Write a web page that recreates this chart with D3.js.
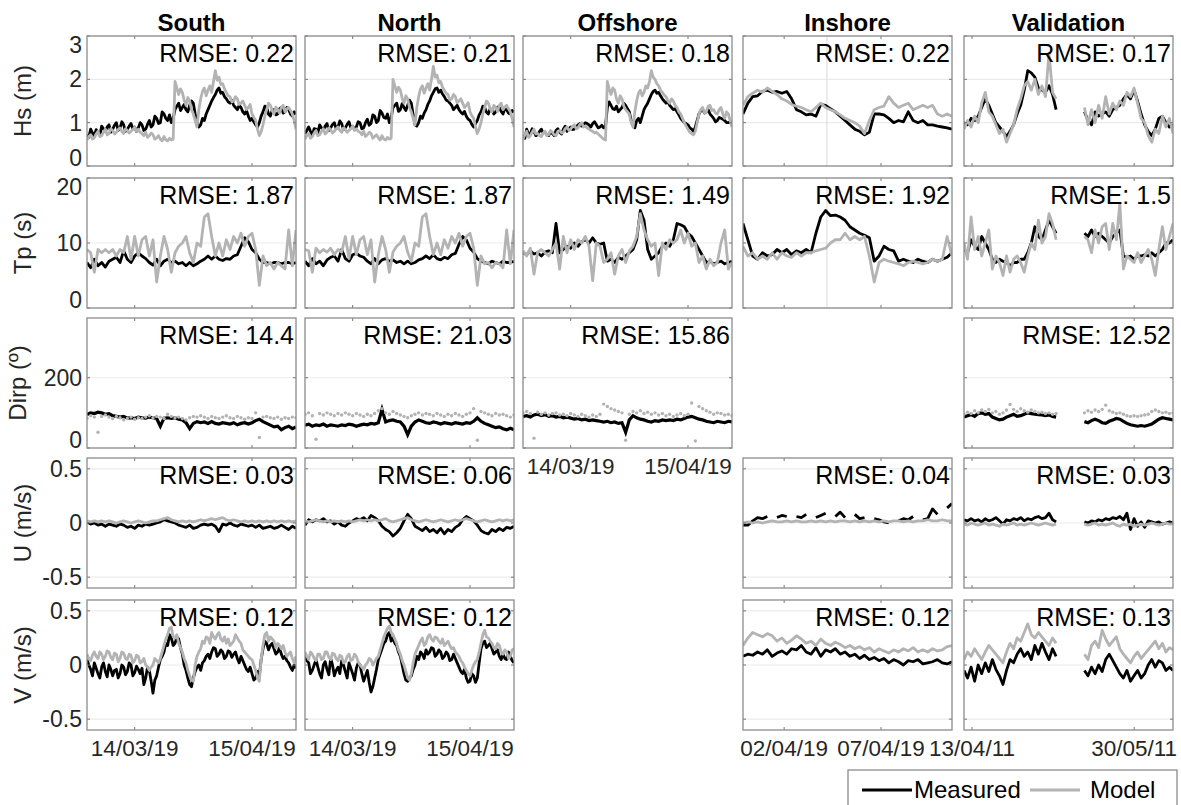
<!DOCTYPE html>
<html>
<head>
<meta charset="utf-8">
<script src="https://cdn.jsdelivr.net/npm/d3@7"></script>
<style>
  body { margin: 0; background: #fff; }
  svg { display: block; font-family: Arial, "Liberation Sans", Helvetica, sans-serif; }
</style>
</head>
<body>
<div id="chart"></div>
<script>
// stations (columns)
const stations = ["South", "North", "Offshore", "Inshore", "Validation"];
const stationStart = ["2019-03-01T00:00", "2019-03-01T00:00", "2019-03-01T00:00", "2019-03-30T21:00", "2011-04-10T16:00"];
const stationEnd = ["2019-04-27T00:00", "2019-04-27T00:00", "2019-04-27T00:00", "2019-04-10T16:00", "2011-06-10T06:00"];
const stationTicks = [
    ["2019-03-14", "2019-04-15"],
    ["2019-03-14", "2019-04-15"],
    ["2019-03-14", "2019-04-15"],
    ["2019-04-02", "2019-04-07"],
    ["2011-04-13", "2011-05-30"]
];
const inshoreMarker = "2019-04-04T05:00";

// variables (rows)
const variables = ["Hs", "Tp", "Dirp", "U", "V"];
const varLabels = ["Hs (m)", "Tp (s)", "Dirp (º)", "U (m/s)", "V (m/s)"];
const varDomains = [[0, 3], [0, 20], [0, 370], [-0.6, 0.6], [-0.6, 0.6]];
const varTicks = [[0, 1, 2, 3], [0, 10, 20], [0, 200], [-0.5, 0, 0.5], [-0.5, 0, 0.5]];

const rmseHs = [0.22, 0.21, 0.18, 0.22, 0.17];
const rmseTp = [1.87, 1.87, 1.49, 1.92, 1.5];
const rmseDirp = [14.4, 21.03, 15.86, null, 12.52];
const rmseU = [0.03, 0.06, null, 0.04, 0.03];
const rmseV = [0.12, 0.12, null, 0.12, 0.13];

// ---- Hs ----
const southHsMeas = [0.72,0.66,0.85,0.76,0.70,0.84,0.78,0.70,0.92,0.86,0.80,0.90,0.95,0.78,0.85,0.94,1.00,0.82,0.88,1.02,0.95,0.80,0.85,0.92,0.98,0.86,0.90,0.80,0.88,1.00,0.95,0.82,0.85,0.96,1.05,0.90,0.95,1.15,1.10,0.98,1.00,1.25,1.20,1.10,1.05,1.18,1.00,1.10,1.30,1.38,1.45,1.28,1.35,1.42,1.30,1.25,1.40,1.50,1.45,1.20,1.00,0.90,0.95,1.10,1.05,1.20,1.30,1.40,1.50,1.58,1.65,1.75,1.80,1.68,1.70,1.60,1.55,1.48,1.45,1.52,1.40,1.35,1.30,1.40,1.35,1.25,1.20,1.28,1.15,1.05,1.10,1.02,0.95,0.90,1.00,1.15,1.25,1.38,1.35,1.20,1.15,1.28,1.30,1.18,1.20,1.32,1.35,1.22,1.25,1.35,1.30,1.20,1.15,1.25,1.20];
const southHsModel = [0.60,0.68,0.72,0.62,0.65,0.74,0.80,0.68,0.70,0.78,0.85,0.72,0.75,0.86,0.82,0.74,0.78,0.84,0.88,0.80,0.75,0.86,0.82,0.76,0.80,0.84,0.90,0.80,0.85,0.78,0.75,0.70,0.78,0.66,0.70,0.76,0.72,0.62,0.65,0.70,0.62,0.58,0.68,0.60,0.58,0.64,0.60,0.62,1.95,1.80,1.65,1.78,1.70,1.52,1.40,1.58,1.50,1.30,1.20,1.05,0.90,1.30,1.55,1.72,1.80,1.62,1.75,1.85,1.70,1.95,2.20,1.98,2.05,1.88,1.90,1.78,1.70,1.62,1.60,1.48,1.50,1.60,1.55,1.42,1.45,1.50,1.40,1.30,1.35,1.42,1.20,1.12,1.05,0.85,0.70,0.80,0.95,1.15,1.30,1.45,1.40,1.28,1.20,1.36,1.30,1.22,1.35,1.40,1.25,1.32,1.35,1.28,1.20,1.05,0.85];
const northHsMeas = [0.75,0.82,0.90,0.80,0.72,0.86,0.85,0.76,0.95,0.88,0.82,0.92,0.98,0.82,0.88,0.96,1.00,0.86,0.90,1.04,0.98,0.84,0.88,0.96,1.02,0.88,0.92,0.84,0.90,1.02,1.00,0.86,0.88,1.00,1.08,0.94,0.98,1.18,1.15,1.00,1.05,1.28,1.22,1.12,1.10,1.20,1.00,1.12,1.35,1.40,1.45,1.26,1.30,1.44,1.35,1.28,1.40,1.52,1.45,1.18,0.95,0.92,1.00,1.15,1.10,1.22,1.30,1.42,1.50,1.62,1.70,1.78,1.80,1.70,1.75,1.66,1.60,1.52,1.50,1.45,1.40,1.30,1.35,1.40,1.30,1.24,1.20,1.26,1.15,1.08,1.05,0.96,0.90,0.98,1.05,1.18,1.25,1.38,1.35,1.24,1.20,1.32,1.30,1.20,1.25,1.36,1.35,1.26,1.20,1.32,1.30,1.22,1.20,1.28,1.25];
const northHsModel = [0.62,0.70,0.75,0.64,0.68,0.76,0.82,0.70,0.72,0.80,0.86,0.74,0.78,0.88,0.84,0.76,0.80,0.86,0.90,0.82,0.78,0.88,0.85,0.78,0.82,0.86,0.92,0.82,0.86,0.80,0.78,0.72,0.80,0.68,0.72,0.78,0.75,0.64,0.68,0.72,0.65,0.60,0.70,0.62,0.60,0.66,0.62,0.64,2.00,1.85,1.70,1.82,1.75,1.56,1.45,1.62,1.55,1.35,1.25,1.10,0.95,1.35,1.60,1.78,1.85,1.68,1.80,1.90,1.75,2.00,2.30,2.05,2.10,1.92,1.95,1.82,1.75,1.68,1.65,1.52,1.55,1.65,1.60,1.46,1.50,1.55,1.45,1.35,1.40,1.46,1.25,1.16,1.10,0.90,0.75,0.86,1.00,1.20,1.35,1.50,1.45,1.32,1.25,1.40,1.35,1.26,1.40,1.45,1.30,1.36,1.40,1.32,1.25,1.10,0.90];
const offshoreHsMeas = [0.70,0.64,0.85,0.74,0.75,0.86,0.80,0.70,0.72,0.80,0.85,0.76,0.78,0.72,0.70,0.80,0.75,0.70,0.82,0.86,0.78,0.74,0.85,0.92,0.80,0.86,0.90,0.84,0.85,0.90,0.95,0.98,0.92,0.96,1.00,0.98,0.95,0.90,0.98,1.02,0.95,0.88,0.90,0.94,0.88,0.92,1.35,1.48,1.40,1.32,1.30,1.38,1.25,1.30,1.35,1.45,1.40,1.32,1.25,1.05,0.95,0.88,1.05,1.10,1.00,1.15,1.30,1.38,1.45,1.55,1.65,1.72,1.75,1.68,1.70,1.62,1.55,1.50,1.45,1.48,1.40,1.35,1.30,1.32,1.25,1.18,1.10,1.05,1.00,0.98,0.95,0.88,0.85,0.80,0.90,1.05,1.20,1.28,1.30,1.22,1.25,1.30,1.20,1.15,1.10,1.02,1.05,1.12,1.10,1.08,1.05,1.00,1.00,1.02,0.95];
const offshoreHsModel = [0.62,0.72,0.80,0.66,0.70,0.78,0.85,0.74,0.75,0.70,0.68,0.76,0.80,0.70,0.72,0.82,0.78,0.72,0.70,0.80,0.82,0.76,0.78,0.86,0.90,0.82,0.85,0.92,0.95,0.86,0.88,0.96,1.00,0.90,0.92,0.88,0.85,0.82,0.80,0.76,0.78,0.74,0.70,0.66,0.62,0.60,1.95,1.78,1.65,1.80,1.75,1.55,1.45,1.62,1.55,1.38,1.30,1.25,1.20,1.00,0.90,1.25,1.50,1.68,1.75,1.62,1.70,1.85,1.80,1.95,2.20,2.05,2.00,1.90,1.85,1.75,1.70,1.64,1.60,1.50,1.45,1.55,1.50,1.40,1.35,1.25,1.20,1.10,1.00,0.92,0.85,0.78,0.75,0.72,0.80,1.00,1.20,1.30,1.35,1.22,1.25,1.38,1.40,1.28,1.30,1.22,1.20,1.30,1.35,1.20,1.10,1.25,1.20,1.05,0.90];
const inshoreHsMeas = [1.20,1.45,1.60,1.62,1.72,1.75,1.70,1.72,1.68,1.72,1.55,1.30,1.25,1.18,1.20,1.15,1.42,1.40,1.32,1.25,1.15,1.05,0.95,0.85,0.80,0.72,0.78,1.20,1.20,1.18,1.10,1.00,1.05,1.02,1.25,1.05,1.00,1.05,0.95,0.95,0.92,0.90,0.88,0.85];
const inshoreHsModel = [1.40,1.60,1.68,1.75,1.70,1.80,1.72,1.65,1.55,1.50,1.42,1.38,1.35,1.30,1.25,1.35,1.45,1.35,1.30,1.25,1.18,1.10,1.05,1.00,0.92,0.75,1.05,1.30,1.35,1.38,1.60,1.45,1.35,1.40,1.45,1.30,1.35,1.40,1.35,1.40,1.20,1.15,1.20,1.15];
const validationHsMeas = [1.00,0.95,1.10,1.05,1.15,1.35,1.55,1.40,1.20,1.00,0.90,0.80,0.68,0.80,0.95,1.20,1.40,1.75,2.20,2.15,2.05,1.80,1.75,1.70,1.85,1.65,1.30,null,null,null,null,null,null,null,1.25,1.05,0.95,1.25,1.15,1.20,1.25,1.15,1.30,1.35,1.40,1.55,1.65,1.55,1.75,1.50,1.20,0.95,0.80,0.70,0.85,1.10,1.15,1.00,0.90,0.95];
const validationHsModel = [0.85,1.05,0.90,1.15,1.00,1.45,1.70,1.25,1.15,0.95,0.75,0.85,0.55,0.75,0.95,1.30,1.55,1.85,1.95,1.75,2.00,1.65,1.85,1.60,2.60,1.70,1.55,null,null,null,null,null,null,null,1.35,0.95,1.30,1.00,1.40,1.10,1.60,1.20,1.45,1.30,1.50,1.40,1.70,1.60,1.80,1.45,1.10,1.00,0.70,0.55,0.85,0.75,1.15,0.90,1.10,0.75];

// ---- Tp ----
const southTpMeas = [7.0,6.2,7.5,6.5,7.0,6.3,7.2,7.5,7.8,7.0,8.8,7.5,7.0,8.0,8.5,8.0,7.6,7.0,6.6,7.5,6.5,7.2,7.5,7.0,7.2,6.8,7.0,6.5,7.0,6.5,6.8,7.2,7.5,8.0,7.5,8.0,7.5,7.3,7.6,7.5,8.0,8.2,9.5,10.8,10.2,9.0,8.5,7.5,7.0,7.0,6.8,7.0,7.0,6.8,7.0,7.0,6.8,7.0];
const southTpModel = [9.0,8.5,5.5,9.0,8.5,9.0,8.5,9.0,8.0,9.0,8.5,11.0,7.5,11.0,8.0,10.5,11.0,8.0,10.5,4.0,8.0,11.0,9.0,5.5,8.5,9.5,10.0,11.0,8.5,7.0,10.0,9.5,14.0,14.5,11.0,8.0,10.0,8.0,10.5,9.0,11.0,10.0,11.5,9.5,11.0,11.5,9.0,3.5,8.0,6.5,7.0,6.0,7.0,6.5,6.0,12.0,6.5,12.0];
const northTpMeas = [7.2,6.5,7.6,6.8,7.2,6.5,7.4,7.8,8.0,7.2,9.0,7.6,7.2,8.2,8.4,8.0,7.8,7.2,6.8,7.6,6.8,7.4,7.6,7.2,7.4,7.0,7.2,6.8,7.2,6.8,7.0,7.4,7.6,8.0,7.6,8.2,7.6,7.4,7.8,7.6,8.2,8.4,9.8,11.0,10.5,9.2,8.6,7.6,7.2,7.0,6.8,7.2,7.0,6.8,7.2,7.0,7.0,7.2];
const northTpModel = [9.0,8.8,5.5,9.2,8.5,9.0,8.6,9.2,8.2,9.0,8.6,11.0,7.6,11.0,8.2,10.5,11.0,8.2,10.5,4.0,8.2,11.0,9.0,5.5,8.6,9.5,10.0,11.0,8.6,7.2,10.0,9.5,14.0,14.5,11.0,8.2,10.0,8.2,10.5,9.2,11.0,10.0,11.5,9.5,11.0,11.5,9.2,3.5,8.0,6.8,7.0,6.2,7.0,6.8,6.2,12.0,6.8,12.0];
const offshoreTpMeas = [8.5,8.2,8.8,8.3,8.5,8.0,8.6,8.8,8.5,13.0,8.5,9.0,9.5,9.2,10.0,9.5,10.2,10.5,10.0,10.8,10.0,9.8,10.0,7.2,7.5,7.0,7.8,7.5,8.0,8.5,9.0,10.5,15.0,13.5,9.0,7.5,8.0,8.5,9.5,10.0,9.5,10.5,13.0,12.8,12.5,11.5,11.0,10.0,9.0,8.0,7.0,7.2,6.8,7.0,7.2,6.8,7.0,7.2];
const offshoreTpModel = [8.8,8.0,9.2,5.2,8.6,9.0,8.5,8.0,9.0,10.0,6.0,11.0,8.5,10.5,9.0,10.5,10.0,11.0,9.5,4.2,10.0,9.5,7.0,7.5,8.5,5.2,8.0,9.0,7.0,8.8,9.5,11.0,14.5,12.0,10.5,9.5,10.0,5.0,10.0,9.0,10.5,10.0,10.5,12.0,10.0,11.5,9.5,10.0,7.0,8.0,6.0,7.5,6.5,7.0,10.0,12.0,6.0,7.0];
const inshoreTpMeas = [13.0,10.5,8.0,7.5,8.5,8.0,8.2,9.0,8.5,9.0,8.2,8.8,8.5,9.0,8.5,11.5,14.0,15.0,14.2,14.3,14.0,13.5,12.5,12.0,11.5,11.2,10.8,7.2,8.0,9.5,9.0,8.8,7.2,7.5,7.2,7.0,7.5,7.2,7.0,7.5,7.2,7.5,7.8,8.5];
const inshoreTpModel = [9.5,8.0,8.5,7.5,8.0,7.5,8.5,7.5,8.5,8.0,7.8,8.5,8.0,8.5,8.5,8.8,9.0,9.2,10.0,10.5,10.5,11.5,10.5,11.0,10.5,11.0,8.0,4.0,7.0,7.5,7.2,7.0,6.8,6.5,7.0,7.2,7.0,6.8,7.0,7.5,7.2,7.5,11.0,8.0];
const validationTpMeas = [9.0,8.5,10.5,9.5,9.0,11.0,10.0,9.0,7.5,7.0,7.5,7.2,7.0,6.5,7.0,7.0,7.5,7.5,8.5,10.0,12.5,11.0,10.5,12.0,13.5,12.5,11.5,null,null,null,null,null,null,null,11.5,11.0,12.0,11.0,11.5,11.0,10.5,10.0,11.0,11.5,12.0,8.0,7.8,8.0,7.5,8.0,8.0,8.2,8.0,8.5,8.0,8.5,9.0,10.0,10.0,10.5];
const validationTpModel = [10.0,7.5,14.0,9.0,11.0,8.0,10.0,12.0,6.0,8.0,7.0,5.0,8.0,5.5,7.5,8.0,7.0,5.5,8.0,10.0,9.0,13.5,10.0,11.0,14.5,13.0,10.5,null,null,null,null,null,null,null,11.0,10.5,8.5,12.0,10.0,12.5,13.0,9.0,13.0,10.5,16.0,6.0,8.0,7.5,7.0,8.5,7.0,8.0,9.0,7.5,5.0,9.0,12.5,9.0,11.0,13.0];

// ---- Dirp ----
const southDirpMeas = [95,100,98,102,100,96,98,92,90,88,90,85,86,84,88,86,85,88,86,84,62,85,86,84,86,82,80,72,55,70,75,72,74,70,75,70,68,72,70,68,72,66,70,72,68,72,78,82,75,70,65,60,62,52,58,62,55,60];
const southDirpModel = [85,92,88,45,90,94,88,84,90,86,80,84,88,82,86,84,88,92,86,90,88,84,96,90,86,88,84,80,86,90,88,92,88,84,90,86,84,88,92,86,84,90,86,82,86,84,100,30,88,90,86,84,88,82,86,84,88,86];
const northDirpMeas = [65,68,62,66,64,68,62,66,64,62,66,64,68,66,62,65,68,66,70,68,72,110,74,78,80,76,74,62,38,62,74,80,76,72,70,74,72,68,72,70,68,72,70,68,72,70,76,86,76,70,66,62,58,60,55,52,56,52];
const northDirpModel = [96,100,92,25,98,94,100,96,92,98,94,100,96,92,98,94,90,96,92,98,106,112,100,96,104,98,94,90,86,92,96,100,94,98,96,92,98,94,90,96,92,98,94,90,96,100,112,22,104,100,96,92,98,94,96,92,88,94];
const offshoreDirpMeas = [90,92,88,94,96,92,95,90,92,88,90,86,88,85,82,84,80,82,78,80,78,76,74,76,72,74,70,72,45,80,92,86,82,80,76,74,78,76,80,78,80,78,82,80,84,88,90,86,82,80,76,74,72,76,74,72,76,74];
const offshoreDirpModel = [100,104,98,28,102,96,100,94,98,100,94,96,92,98,94,90,96,92,88,94,90,96,125,118,112,108,104,100,22,96,104,100,106,98,102,96,100,94,98,92,96,90,94,98,92,96,128,20,118,112,106,102,96,100,98,94,96,92];
const validationDirpMeas = [88,92,95,90,98,100,96,98,88,84,80,82,88,92,96,90,92,96,100,98,96,95,94,92,94,90,88,null,null,null,null,null,null,null,75,72,78,82,78,72,70,76,80,84,82,76,70,66,64,62,64,62,65,68,75,82,86,84,82,80];
const validationDirpModel = [96,102,98,106,100,108,104,110,100,104,96,100,108,124,110,104,112,106,102,108,104,100,102,98,100,96,98,null,null,null,null,null,null,null,100,106,102,108,104,110,122,106,102,98,100,96,92,90,92,90,92,94,96,104,108,104,100,102,98,100];

// ---- U ----
const southUMeas = [0.01,-0.01,0.00,-0.02,-0.01,-0.03,-0.01,-0.02,-0.03,-0.01,-0.02,-0.04,-0.03,-0.05,-0.02,-0.03,-0.01,-0.02,-0.01,0.00,0.01,0.03,0.02,0.01,0.00,-0.02,-0.03,-0.04,-0.02,-0.05,-0.04,-0.02,-0.01,-0.02,-0.01,-0.03,-0.08,-0.01,-0.02,0.00,-0.02,-0.03,-0.01,-0.02,-0.03,-0.02,-0.04,-0.02,-0.05,-0.04,-0.03,-0.05,-0.04,-0.02,-0.04,-0.06,-0.03,-0.05];
const southUModel = [0.02,0.01,0.02,0.01,0.02,0.01,0.02,0.01,0.00,0.01,0.02,0.01,0.00,0.01,0.02,0.01,0.00,0.01,0.02,0.02,0.03,0.04,0.05,0.03,0.02,0.01,0.02,0.01,0.02,0.01,0.02,0.03,0.02,0.03,0.04,0.03,0.04,0.05,0.03,0.02,0.03,0.02,0.01,0.02,0.01,0.02,0.01,0.02,0.01,0.02,0.01,0.02,0.01,0.02,0.01,0.02,0.01,0.02];
const northUMeas = [-0.02,0.03,0.01,0.03,0.02,0.04,0.01,0.02,-0.01,0.01,-0.02,-0.03,0.00,0.02,0.04,0.03,0.05,0.02,0.07,0.05,0.02,-0.03,-0.06,-0.08,-0.12,-0.09,-0.05,0.02,0.08,0.04,-0.03,-0.05,-0.07,-0.04,-0.08,-0.06,-0.09,-0.05,-0.10,-0.06,-0.08,-0.04,-0.02,0.03,0.06,0.04,0.02,-0.02,-0.07,-0.09,-0.10,-0.06,-0.08,-0.05,-0.07,-0.04,-0.05,-0.03];
const northUModel = [0.02,0.01,0.02,0.03,0.02,0.01,0.02,0.01,0.02,0.01,0.02,0.01,0.02,0.01,0.02,0.03,0.02,0.03,0.02,0.03,0.02,0.03,0.04,0.02,0.01,0.02,0.03,0.04,0.05,0.03,0.02,0.01,0.02,0.03,0.02,0.01,0.02,0.03,0.02,0.01,0.02,0.03,0.02,0.03,0.04,0.03,0.02,0.01,0.02,0.03,0.02,0.01,0.02,0.03,0.02,0.03,0.02,0.03];
const inshoreUMeas = [-0.02,-0.02,0.02,0.05,0.04,0.06,null,0.05,0.07,0.06,null,0.06,0.05,0.08,null,0.05,0.07,0.09,null,0.06,0.10,0.05,null,0.08,0.04,0.05,null,0.04,0.03,0.01,0.00,null,0.02,0.04,0.03,0.06,null,0.03,0.04,0.13,0.08,null,0.14,0.18];
const inshoreUModel = [0.00,0.01,0.00,0.01,0.00,0.01,0.02,0.01,0.01,0.02,0.01,0.02,0.01,0.01,0.02,0.01,0.02,0.01,0.02,0.01,0.02,0.02,0.01,0.02,0.01,0.02,0.01,0.02,0.01,0.02,0.01,0.02,0.02,0.01,0.02,0.01,0.02,0.02,0.03,0.02,0.02,0.03,0.02,0.02];
const validationUMeas = [0.03,0.02,0.04,0.02,0.03,0.01,0.04,0.02,0.03,0.05,0.02,-0.01,0.03,0.02,0.04,0.03,0.05,0.02,0.04,0.03,0.05,0.06,0.04,0.05,0.09,0.03,0.01,null,null,null,null,null,null,null,0.01,0.00,0.02,0.01,0.03,0.02,0.04,0.03,0.05,0.04,0.06,0.03,0.09,-0.06,0.04,-0.03,0.01,-0.04,0.02,0.01,0.00,0.01,-0.01,0.00,0.01,0.00];
const validationUModel = [-0.01,-0.02,0.00,-0.01,-0.02,-0.01,0.00,-0.02,-0.01,-0.02,-0.03,-0.01,-0.02,-0.01,0.00,-0.02,-0.01,-0.02,-0.01,0.00,-0.01,-0.02,-0.01,0.00,-0.01,-0.02,-0.01,null,null,null,null,null,null,null,-0.01,-0.02,-0.01,0.00,-0.02,-0.01,-0.02,-0.01,0.00,-0.02,-0.03,-0.01,-0.02,-0.01,-0.03,-0.02,-0.01,-0.02,-0.01,0.00,-0.01,-0.02,-0.01,0.00,-0.01,-0.01];

// ---- V ----
const southVMeas = [0.05,0.00,-0.04,-0.10,0.02,-0.03,-0.08,-0.12,-0.02,0.02,-0.06,-0.11,0.00,-0.04,-0.10,-0.05,-0.04,-0.12,-0.08,0.00,-0.02,-0.09,-0.06,0.02,0.00,-0.10,-0.07,-0.01,-0.04,-0.08,-0.03,-0.18,-0.12,-0.02,-0.05,-0.15,-0.26,-0.14,-0.10,-0.02,0.05,0.08,0.12,0.20,0.18,0.28,0.25,0.18,0.20,0.26,0.24,0.16,0.10,0.00,-0.05,-0.12,-0.18,-0.20,-0.12,-0.06,-0.02,0.00,-0.05,0.02,0.04,0.08,0.10,0.06,0.12,0.16,0.15,0.08,0.10,0.14,0.12,0.06,0.08,0.13,0.12,0.07,0.10,0.12,0.06,0.02,0.08,0.04,0.00,-0.04,-0.06,-0.02,-0.08,-0.14,-0.12,-0.06,-0.10,0.05,0.15,0.22,0.20,0.14,0.18,0.20,0.15,0.10,0.12,0.16,0.10,0.06,0.08,0.04,0.02,-0.02,-0.05,0.00,-0.03];
const southVModel = [0.10,0.06,0.04,0.09,0.12,0.08,0.06,0.12,0.10,0.05,0.08,0.13,0.12,0.07,0.05,0.11,0.10,0.03,0.06,0.12,0.11,0.06,0.05,0.10,0.09,0.02,0.04,0.09,0.08,0.02,0.03,0.06,0.00,-0.02,-0.05,-0.02,0.00,0.06,0.04,0.02,0.06,0.12,0.18,0.24,0.28,0.34,0.35,0.26,0.25,0.28,0.20,0.16,0.12,0.06,0.02,-0.05,-0.10,-0.14,-0.15,0.00,0.08,0.12,0.15,0.22,0.20,0.26,0.25,0.20,0.30,0.26,0.24,0.28,0.30,0.24,0.22,0.26,0.20,0.24,0.18,0.20,0.22,0.28,0.25,0.22,0.20,0.14,0.12,0.10,0.08,0.06,0.05,0.00,-0.05,-0.12,-0.15,0.05,0.18,0.28,0.30,0.22,0.26,0.24,0.22,0.16,0.20,0.18,0.15,0.18,0.12,0.08,0.10,0.12,0.06,0.02,0.08];
const northVMeas = [0.10,0.04,0.02,-0.08,-0.05,0.00,0.05,-0.02,-0.08,-0.12,0.00,0.03,-0.04,-0.09,0.06,0.00,-0.10,-0.05,-0.02,-0.08,0.04,0.00,-0.06,-0.12,0.02,-0.03,-0.08,-0.14,-0.03,0.02,0.00,-0.08,-0.15,-0.10,-0.05,-0.16,-0.25,-0.20,-0.12,-0.04,0.05,0.10,0.15,0.20,0.22,0.28,0.30,0.22,0.25,0.20,0.18,0.12,0.08,0.00,-0.08,-0.14,-0.15,-0.12,-0.10,-0.04,0.00,0.08,0.05,0.12,0.10,0.06,0.14,0.10,0.12,0.16,0.15,0.08,0.10,0.14,0.12,0.06,0.08,0.12,0.10,0.04,0.05,0.10,0.06,0.02,-0.02,-0.06,-0.08,-0.04,-0.12,-0.16,-0.15,-0.08,-0.10,-0.16,-0.12,0.02,0.15,0.20,0.22,0.16,0.18,0.20,0.15,0.10,0.12,0.14,0.08,0.05,0.10,0.06,0.05,0.12,0.08,0.04,0.02];
const northVModel = [0.12,0.08,0.05,0.12,0.10,0.06,0.04,0.10,0.10,0.05,0.06,0.12,0.12,0.07,0.05,0.11,0.10,0.06,0.04,0.09,0.08,0.02,0.03,0.08,0.10,0.04,0.05,0.10,0.08,0.03,0.00,-0.02,-0.04,0.00,0.02,0.06,0.05,0.00,0.03,0.06,0.08,0.14,0.20,0.26,0.30,0.34,0.36,0.30,0.28,0.24,0.20,0.14,0.10,0.04,0.00,-0.06,-0.12,-0.14,-0.08,0.02,0.10,0.14,0.18,0.22,0.25,0.18,0.20,0.26,0.28,0.24,0.22,0.26,0.25,0.22,0.20,0.24,0.18,0.20,0.22,0.18,0.15,0.16,0.12,0.10,0.08,0.04,0.02,-0.02,-0.05,-0.08,-0.10,-0.05,0.00,0.03,0.05,0.12,0.20,0.28,0.32,0.26,0.25,0.22,0.20,0.16,0.15,0.20,0.18,0.12,0.10,0.14,0.12,0.06,0.08,0.14,0.15];
const inshoreVMeas = [0.08,0.10,0.09,0.12,0.10,0.14,0.08,0.11,0.13,0.10,0.15,0.14,0.18,0.12,0.10,0.16,0.08,0.14,0.12,0.15,0.10,0.12,0.08,0.10,0.06,0.09,0.05,0.07,0.04,0.06,0.02,0.05,0.03,0.00,0.04,0.03,0.05,0.01,0.02,0.03,0.05,0.02,0.01,0.03];
const inshoreVModel = [0.18,0.25,0.30,0.28,0.26,0.29,0.27,0.22,0.25,0.20,0.23,0.27,0.24,0.20,0.22,0.18,0.24,0.20,0.18,0.21,0.19,0.16,0.18,0.15,0.17,0.14,0.16,0.12,0.15,0.13,0.11,0.14,0.12,0.15,0.13,0.16,0.12,0.14,0.12,0.15,0.13,0.14,0.17,0.18];
const validationVMeas = [-0.05,-0.12,-0.02,-0.15,0.00,-0.08,0.02,-0.06,0.05,-0.04,-0.10,-0.18,-0.05,0.05,0.02,0.10,0.15,0.08,0.12,0.05,0.18,0.10,0.20,0.12,0.05,0.15,0.08,null,null,null,null,null,null,null,-0.05,-0.10,-0.02,-0.08,0.00,-0.06,0.05,0.10,0.04,-0.02,-0.08,-0.12,-0.05,-0.15,-0.10,-0.05,-0.12,-0.08,0.00,0.05,-0.02,0.04,0.02,-0.05,-0.02,-0.05];
const validationVModel = [0.05,0.12,0.08,0.15,0.10,0.05,0.12,0.18,0.14,0.10,0.06,0.02,0.12,0.20,0.15,0.25,0.22,0.30,0.38,0.28,0.25,0.30,0.26,0.22,0.18,0.25,0.20,null,null,null,null,null,null,null,0.10,0.05,0.18,0.22,0.16,0.32,0.24,0.18,0.22,0.26,0.15,0.10,0.06,0.02,0.08,0.12,0.06,0.10,0.14,0.18,0.22,0.15,0.20,0.12,0.16,0.14];

// lookup table built from the arrays above: [measured, model]
const series = {
    South: { Hs: [southHsMeas, southHsModel], Tp: [southTpMeas, southTpModel], Dirp: [southDirpMeas, southDirpModel], U: [southUMeas, southUModel], V: [southVMeas, southVModel] },
    North: { Hs: [northHsMeas, northHsModel], Tp: [northTpMeas, northTpModel], Dirp: [northDirpMeas, northDirpModel], U: [northUMeas, northUModel], V: [northVMeas, northVModel] },
    Offshore: { Hs: [offshoreHsMeas, offshoreHsModel], Tp: [offshoreTpMeas, offshoreTpModel], Dirp: [offshoreDirpMeas, offshoreDirpModel] },
    Inshore: { Hs: [inshoreHsMeas, inshoreHsModel], Tp: [inshoreTpMeas, inshoreTpModel], U: [inshoreUMeas, inshoreUModel], V: [inshoreVMeas, inshoreVModel] },
    Validation: { Hs: [validationHsMeas, validationHsModel], Tp: [validationTpMeas, validationTpModel], Dirp: [validationDirpMeas, validationDirpModel], U: [validationUMeas, validationUModel], V: [validationVMeas, validationVModel] }
};
const rmse = { Hs: rmseHs, Tp: rmseTp, Dirp: rmseDirp, U: rmseU, V: rmseV };

const width = 1181, height = 805;
const colX = [87, 305, 523, 743, 964], panelW = 209;
const rowY = [36, 178, 318, 458, 600], panelH = 130;
const measColor = "#000000", modelColor = "#b3b3b3", boxColor = "#8c8c8c", gridColor = "#ebebeb";

const svg = d3.select("#chart")
    .append("svg")
    .attr("width", width)
    .attr("height", height);

const defs = svg.append("defs");

const parseTime = d3.timeParse("%Y-%m-%dT%H:%M");
const parseDay = d3.timeParse("%Y-%m-%d");
const fmtDay = d3.timeFormat("%d/%m/%y");

stations.forEach((station, c) => {
    const start = parseTime(stationStart[c]),
        end = parseTime(stationEnd[c]);
    const x = d3.scaleTime()
        .domain([start, end])
        .range([colX[c], colX[c] + panelW]);

    // regularly sampled record -> {t, v} points across the period
    const toPoints = arr => arr.map((v, i) => ({ t: new Date(+start + i * (end - start) / (arr.length - 1)), v }));

    let lastRow = 0;
    variables.forEach((v, r) => { if (series[station][v]) lastRow = r; });

    variables.forEach((variable, r) => {
        const s = series[station][variable];
        if (!s) return;

        const y = d3.scaleLinear()
            .domain(varDomains[r])
            .range([rowY[r] + panelH, rowY[r]]);

        const g = svg.append("g").attr("class", "panel");
        const x0 = colX[c], x1 = colX[c] + panelW, y0 = rowY[r], y1 = rowY[r] + panelH;

        // grid
        g.selectAll("line.grid")
            .data(varTicks[r])
            .join("line")
            .attr("x1", x0).attr("x2", x1)
            .attr("y1", d => y(d)).attr("y2", d => y(d))
            .attr("stroke", gridColor)
            .attr("stroke-width", 1.2);

        if (station === "Inshore" && (variable === "Hs" || variable === "Tp")) {
            const mx = x(parseTime(inshoreMarker));
            g.append("line")
                .attr("x1", mx).attr("x2", mx)
                .attr("y1", y0).attr("y2", y1)
                .attr("stroke", "#d9d9d9")
                .attr("stroke-width", 1);
        }

        const clipId = `clip-${c}-${r}`;
        defs.append("clipPath").attr("id", clipId)
            .append("rect")
            .attr("x", x0).attr("y", y0)
            .attr("width", panelW).attr("height", panelH);

        const plot = g.append("g").attr("clip-path", `url(#${clipId})`);

        const line = d3.line()
            .defined(d => d.v != null)
            .x(d => x(d.t))
            .y(d => y(d.v));

        const meas = toPoints(s[0]),
            model = toPoints(s[1]);

        if (variable === "Dirp") {
            plot.append("path")
                .datum(meas)
                .attr("fill", "none")
                .attr("stroke", measColor)
                .attr("stroke-width", 3.2)
                .attr("d", line);
            plot.selectAll("circle")
                .data(model.filter(d => d.v != null))
                .join("circle")
                .attr("cx", d => x(d.t))
                .attr("cy", d => y(d.v))
                .attr("r", 1.7)
                .attr("fill", modelColor);
        } else {
            plot.append("path")
                .datum(meas)
                .attr("fill", "none")
                .attr("stroke", measColor)
                .attr("stroke-width", 2.8)
                .attr("stroke-linejoin", "round")
                .attr("d", line);
            plot.append("path")
                .datum(model)
                .attr("fill", "none")
                .attr("stroke", modelColor)
                .attr("stroke-width", 2.8)
                .attr("stroke-linejoin", "round")
                .attr("d", line);
        }

        // inward tick marks
        varTicks[r].forEach(t => {
            g.append("line").attr("x1", x0).attr("x2", x0 + 3).attr("y1", y(t)).attr("y2", y(t)).attr("stroke", "#777");
            g.append("line").attr("x1", x1 - 3).attr("x2", x1).attr("y1", y(t)).attr("y2", y(t)).attr("stroke", "#777");
        });
        stationTicks[c].forEach(t => {
            const tx = x(parseDay(t));
            g.append("line").attr("x1", tx).attr("x2", tx).attr("y1", y1).attr("y2", y1 - 3).attr("stroke", "#777");
            g.append("line").attr("x1", tx).attr("x2", tx).attr("y1", y0).attr("y2", y0 + 3).attr("stroke", "#777");
        });

        // box
        g.append("rect")
            .attr("x", x0).attr("y", y0)
            .attr("width", panelW).attr("height", panelH)
            .attr("fill", "none")
            .attr("stroke", boxColor)
            .attr("stroke-width", 1.3);

        // RMSE
        const e = rmse[variable][c];
        if (e != null) {
            g.append("text")
                .attr("x", x1 - 2)
                .attr("y", y0 + 26)
                .attr("text-anchor", "end")
                .attr("font-size", 25)
                .attr("fill", "#000")
                .text(`RMSE: ${e}`);
        }

        // y tick labels on first column (end labels pulled inside the frame)
        if (c === 0) {
            const dom = varDomains[r];
            g.selectAll("text.ytick")
                .data(varTicks[r])
                .join("text")
                .attr("class", "ytick")
                .attr("x", 82)
                .attr("y", d => y(d) + (d === dom[1] ? 9 : d === dom[0] ? -8 : 0))
                .attr("dy", "0.35em")
                .attr("text-anchor", "end")
                .attr("font-size", 23)
                .attr("fill", "#262626")
                .text(d => String(d));

            svg.append("text")
                .attr("transform", `translate(${r === 2 ? 18 : 23},${(y0 + y1) / 2}) rotate(-90)`)
                .attr("text-anchor", "middle")
                .attr("dy", "0.35em")
                .attr("font-size", 24)
                .attr("fill", "#262626")
                .text(varLabels[r]);
        }

        // x tick labels under the lowest panel of the column
        if (r === lastRow) {
            g.selectAll("text.xtick")
                .data(stationTicks[c])
                .join("text")
                .attr("class", "xtick")
                .attr("x", d => x(parseDay(d)))
                .attr("y", y1 + 26)
                .attr("text-anchor", "middle")
                .attr("font-size", 22.5)
                .attr("fill", "#262626")
                .text(d => fmtDay(parseDay(d)));
        }

        // column title
        if (r === 0) {
            svg.append("text")
                .attr("x", (x0 + x1) / 2)
                .attr("y", 31)
                .attr("text-anchor", "middle")
                .attr("font-size", 24)
                .attr("font-weight", "bold")
                .attr("fill", "#000")
                .text(station);
        }
    });
});

// Legend
const legend = svg.append("g");
legend.append("rect")
    .attr("x", 848).attr("y", 770)
    .attr("width", 329).attr("height", 50)
    .attr("fill", "#fff")
    .attr("stroke", boxColor)
    .attr("stroke-width", 1.3);
const legendItems = [["Measured", measColor, 862, 914], ["Model", modelColor, 1030, 1090]];
legendItems.forEach(([name, color, lx, tx]) => {
    legend.append("line")
        .attr("x1", lx).attr("x2", lx + 50)
        .attr("y1", 790).attr("y2", 790)
        .attr("stroke", color)
        .attr("stroke-width", 2.8);
    legend.append("text")
        .attr("x", tx).attr("y", 790)
        .attr("dy", "0.35em")
        .attr("font-size", 24)
        .attr("fill", "#000")
        .text(name);
});
</script>
</body>
</html>
